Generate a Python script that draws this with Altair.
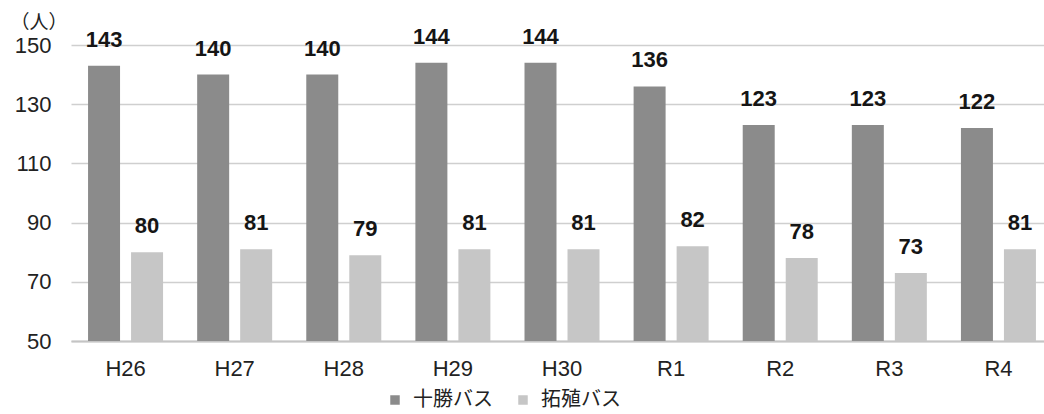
import altair as alt
import pandas as pd

# Fiscal years (Heisei 26 – Reiwa 4)
years = ["H26", "H27", "H28", "H29", "H30", "R1", "R2", "R3", "R4"]
series = ["十勝バス", "拓殖バス"]
tokachi = [143, 140, 140, 144, 144, 136, 123, 123, 122]
takushoku = [80, 81, 79, 81, 81, 82, 78, 73, 81]
colors = ["#8b8b8b", "#c6c6c6"]

rows = []
for i, y in enumerate(years):
    rows.append({"year": y, "company": series[0], "value": tokachi[i]})
    rows.append({"year": y, "company": series[1], "value": takushoku[i]})
df = pd.DataFrame(rows)

LAT = "Liberation Sans"
CJK = "Noto Sans CJK JP"

x_enc = alt.X(
    "year:N",
    sort=years,
    scale=alt.Scale(range=[0, 982], paddingInner=0.3126, paddingOuter=0.1563),
    axis=alt.Axis(
        title=None,
        labelAngle=0,
        labelFont=LAT,
        labelFontSize=22,
        labelColor="#222222",
        labelPadding=17,
        ticks=False,
        domainColor="#c4c4c4",
        domainWidth=2,
        grid=False,
    ),
)
xoff = alt.XOffset("company:N", sort=series, scale=alt.Scale(paddingInner=0.256))
y_scale = alt.Scale(domain=[50, 150], zero=False, nice=False)

bars = alt.Chart(df).mark_bar().encode(
    x=x_enc,
    xOffset=xoff,
    y=alt.Y(
        "value:Q",
        scale=y_scale,
        axis=alt.Axis(
            values=[50, 70, 90, 110, 130, 150],
            title="（人）",
            titleAngle=0,
            titleAlign="left",
            titleBaseline="alphabetic",
            titleX=-61,
            titleY=-17,
            titleFont=CJK,
            titleFontSize=19,
            titleFontWeight="normal",
            titleColor="#222222",
            labelFont=LAT,
            labelFontSize=22,
            labelColor="#222222",
            labelPadding=20,
            ticks=False,
            domain=False,
            gridColor="#cfcfcf",
            gridWidth=1.5,
        ),
    ),
    y2=alt.datum(50),
    color=alt.Color(
        "company:N",
        sort=series,
        scale=alt.Scale(domain=series, range=colors),
        legend=alt.Legend(
            title=None,
            orient="none",
            direction="horizontal",
            legendX=314,
            legendY=345,
            symbolType="square",
            symbolSize=90,
            symbolStrokeWidth=0,
            labelFont=CJK,
            labelFontSize=20,
            labelColor="#222222",
            labelOffset=8,
            columnPadding=20,
        ),
    ),
)

labels = alt.Chart(df).mark_text(
    baseline="bottom",
    dy=-14,
    font=LAT,
    fontSize=22,
    fontWeight="bold",
    color="#151515",
).encode(
    x=alt.X("year:N", sort=years),
    xOffset=alt.XOffset("company:N", sort=series),
    y=alt.Y("value:Q", scale=y_scale),
    text=alt.Text("value:Q"),
)

chart = (
    alt.layer(bars, labels)
    .properties(
        width=973,
        height=296,
        autosize=alt.AutoSizeParams(type="none"),
        padding={"left": 71, "top": 45, "right": 0, "bottom": 73},
        background="white",
    )
    .configure_view(stroke=None)
)

chart.save("out.html", embed_options={"renderer": "svg", "actions": False})
